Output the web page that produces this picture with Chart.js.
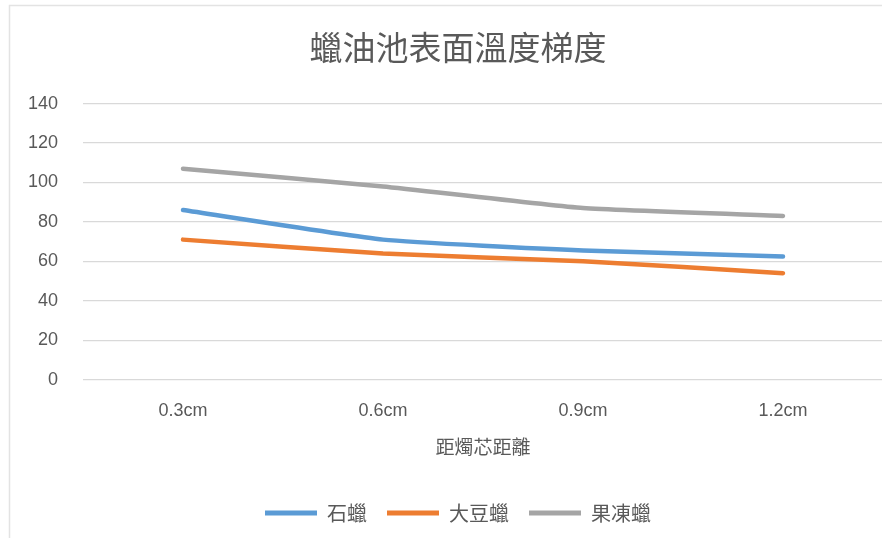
<!DOCTYPE html>
<html>
<head>
<meta charset="utf-8">
<script src="https://cdn.jsdelivr.net/npm/chart.js@4.4.1/dist/chart.umd.min.js"></script>
<style>
    html, body { margin: 0; padding: 0; background: #ffffff; overflow: hidden; }
    #wrap { position: relative; width: 882px; height: 538px; overflow: hidden; }
</style>
</head>
<body>
<div id="wrap"><canvas id="chart" width="916" height="538"></canvas></div>
<script>
    // distance from the wick
    const categories = ["0.3cm", "0.6cm", "0.9cm", "1.2cm"];
    // surface temperature per wax type
    const paraffin = [86, 71, 65.5, 62.5];
    const soy = [71, 64, 60, 54];
    const gel = [107, 98, 87, 83];
    const seriesNames = ["石蠟", "大豆蠟", "果凍蠟"];
    const yTicks = [0, 20, 40, 60, 80, 100, 120, 140];

    const colors = ["#5b9bd5", "#ed7d31", "#a5a5a5"];
    const cjk = '"Noto Sans CJK TC", "Noto Sans CJK SC", sans-serif';
    const latin = '"Liberation Sans", "DejaVu Sans", sans-serif';

    function makeSet(label, data, color) {
        return {
            label: label,
            data: data,
            borderColor: color,
            backgroundColor: color,
            borderWidth: 4.5,
            borderCapStyle: "round",
            pointRadius: 0,
            pointHoverRadius: 0,
            tension: 0.15,
            fill: false,
        };
    }

    // thin frame around the whole chart
    const frame = {
        id: "frame",
        beforeDraw(c) {
            const g = c.ctx;
            g.save();
            g.strokeStyle = "#e3e3e3";
            g.lineWidth = 1.5;
            g.strokeRect(9.5, 5.5, c.width + 20, c.height + 20);
            g.restore();
        },
    };

    const ctx = document.getElementById("chart").getContext("2d");
    const chart = new Chart(ctx, {
        type: "line",
        data: {
            labels: categories,
            datasets: [
                makeSet(seriesNames[0], paraffin, colors[0]),
                makeSet(seriesNames[1], soy, colors[1]),
                makeSet(seriesNames[2], gel, colors[2]),
            ],
        },
        plugins: [frame],
        options: {
            responsive: false,
            animation: false,
            layout: { padding: { left: 0, right: 0, top: 28, bottom: 5 } },
            plugins: {
                title: {
                    display: true,
                    text: "蠟油池表面溫度梯度",
                    color: "#595959",
                    font: { family: cjk, size: 33, weight: "normal" },
                    padding: { top: 0, bottom: 36 },
                },
                legend: {
                    position: "bottom",
                    labels: {
                        color: "#595959",
                        font: { family: cjk, size: 20 },
                        boxWidth: 52,
                        boxHeight: 5,
                        padding: 20,
                        generateLabels: (c) => c.data.datasets.map((ds, i) => ({
                            text: ds.label,
                            fillStyle: ds.borderColor,
                            strokeStyle: ds.borderColor,
                            lineWidth: 0,
                            datasetIndex: i,
                            fontColor: "#595959",
                        })),
                    },
                },
                tooltip: { enabled: false },
            },
            scales: {
                x: {
                    offset: true,
                    grid: { display: false, drawTicks: false },
                    border: { display: false },
                    ticks: {
                        color: "#595959",
                        font: { family: latin, size: 18 },
                        padding: 21,
                    },
                    title: {
                        display: true,
                        text: "距燭芯距離",
                        color: "#595959",
                        font: { family: cjk, size: 19 },
                        padding: { top: -8, bottom: 25 },
                    },
                },
                y: {
                    min: 0,
                    max: 140,
                    afterFit: (scale) => { scale.width = 83; },
                    afterBuildTicks: (scale) => {
                        scale.ticks = yTicks.map((v) => ({ value: v }));
                    },
                    grid: { color: "#d9d9d9", lineWidth: 1.2, drawTicks: false },
                    border: { display: false },
                    ticks: {
                        color: "#595959",
                        font: { family: latin, size: 18 },
                        padding: 25,
                    },
                },
                // empty right gutter so the plot ends at the same place as the left side is offset
                gutter: {
                    position: "right",
                    min: 0,
                    max: 140,
                    afterFit: (scale) => { scale.width = 33; },
                    grid: { display: false },
                    border: { display: false },
                    ticks: { display: false },
                },
            },
        },
    });
</script>
</body>
</html>
